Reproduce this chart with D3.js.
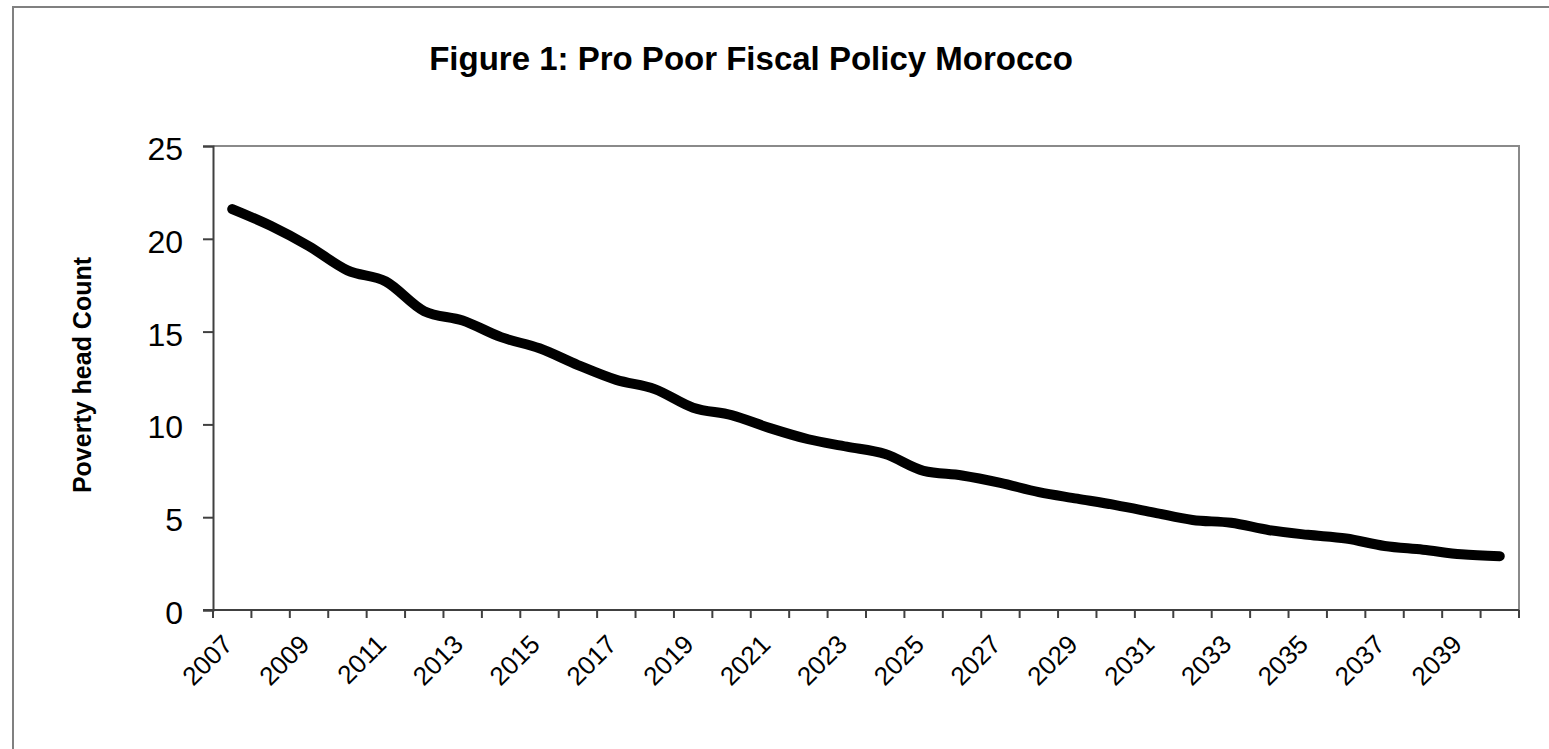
<!DOCTYPE html>
<html>
<head>
<meta charset="utf-8">
<script src="https://cdn.jsdelivr.net/npm/d3@7"></script>
<style>
  html, body { margin: 0; padding: 0; background: #fff; }
  svg { display: block; }
  text { font-family: "Liberation Sans", Arial, sans-serif; fill: #000; }
</style>
</head>
<body>
<svg id="chart" width="1549" height="749"></svg>
<script>
const title = "Figure 1: Pro Poor Fiscal Policy Morocco";
const yAxisTitle = "Poverty head Count";
const years = [2007,2008,2009,2010,2011,2012,2013,2014,2015,2016,2017,2018,2019,2020,2021,2022,2023,2024,2025,2026,2027,2028,2029,2030,2031,2032,2033,2034,2035,2036,2037,2038,2039,2040];
const povertyHeadCount = [21.6,20.7,19.6,18.3,17.7,16.1,15.6,14.7,14.1,13.2,12.4,11.9,10.9,10.5,9.8,9.2,8.8,8.4,7.5,7.25,6.85,6.35,6.0,5.65,5.25,4.85,4.7,4.3,4.05,3.85,3.45,3.25,3.0,2.9];
const yTicks = [0,5,10,15,20,25];
const xTickLabels = years.filter((y,i) => i % 2 === 0);

const svg = d3.select("#chart");
const plot = {left: 213, right: 1519, top: 146, bottom: 610};

// outer frame
svg.append("rect")
  .attr("x", 13).attr("y", 7).attr("width", 1560).attr("height", 760)
  .attr("fill", "#fff").attr("stroke", "#808080").attr("stroke-width", 2);

// title
svg.append("text")
  .attr("x", 751).attr("y", 70)
  .attr("text-anchor", "middle")
  .attr("font-size", 33).attr("font-weight", "bold")
  .text(title);

const x = d3.scaleBand().domain(years).range([plot.left, plot.right]).padding(0);
const y = d3.scaleLinear().domain([0, 25]).range([plot.bottom, plot.top]);

// plot area top/right border
svg.append("path")
  .attr("d", `M${plot.left},${plot.top}H${plot.right}V${plot.bottom}`)
  .attr("fill", "none").attr("stroke", "#8a8a8a").attr("stroke-width", 2);

// y axis
const yAxis = svg.append("g")
  .attr("transform", `translate(${plot.left},0)`)
  .call(d3.axisLeft(y).tickValues(yTicks).tickSize(10).tickPadding(20).tickFormat(d3.format("d")));
yAxis.select(".domain").attr("stroke", "#404040").attr("stroke-width", 2);
yAxis.selectAll(".tick line").attr("stroke", "#404040").attr("stroke-width", 2);
yAxis.selectAll(".tick text")
  .attr("font-size", 32).attr("font-family", "Liberation Sans, Arial, sans-serif")
  .attr("fill", "#000").attr("dy", "0.42em");

// x axis: ticks at category boundaries
const xAxisG = svg.append("g").attr("transform", `translate(0,${plot.bottom})`);
xAxisG.append("line")
  .attr("x1", plot.left - 10).attr("x2", plot.right)
  .attr("y1", 0).attr("y2", 0)
  .attr("stroke", "#404040").attr("stroke-width", 2);
const boundaries = years.map(d => x(d)).concat([x(years[years.length - 1]) + x.bandwidth()]);
xAxisG.selectAll("line.tk").data(boundaries).join("line")
  .attr("class", "tk")
  .attr("x1", d => d).attr("x2", d => d)
  .attr("y1", 0).attr("y2", 8)
  .attr("stroke", "#404040").attr("stroke-width", 2);
xAxisG.selectAll("text.lbl").data(xTickLabels).join("text")
  .attr("class", "lbl")
  .attr("transform", d => `translate(${x(d) + x.bandwidth() / 2 + 2},${36}) rotate(-45)`)
  .attr("text-anchor", "end")
  .attr("font-size", 26)
  .text(d => d);

// y axis title
svg.append("text")
  .attr("transform", "translate(91,375) rotate(-90)")
  .attr("text-anchor", "middle")
  .attr("font-size", 25).attr("font-weight", "bold")
  .text(yAxisTitle);

// line
const line = d3.line()
  .x((d, i) => x(years[i]) + x.bandwidth() / 2)
  .y(d => y(d))
  .curve(d3.curveMonotoneX);
svg.append("path")
  .datum(povertyHeadCount)
  .attr("d", line)
  .attr("fill", "none")
  .attr("stroke", "#000")
  .attr("stroke-width", 10)
  .attr("stroke-linejoin", "round")
  .attr("stroke-linecap", "round");
</script>
</body>
</html>
